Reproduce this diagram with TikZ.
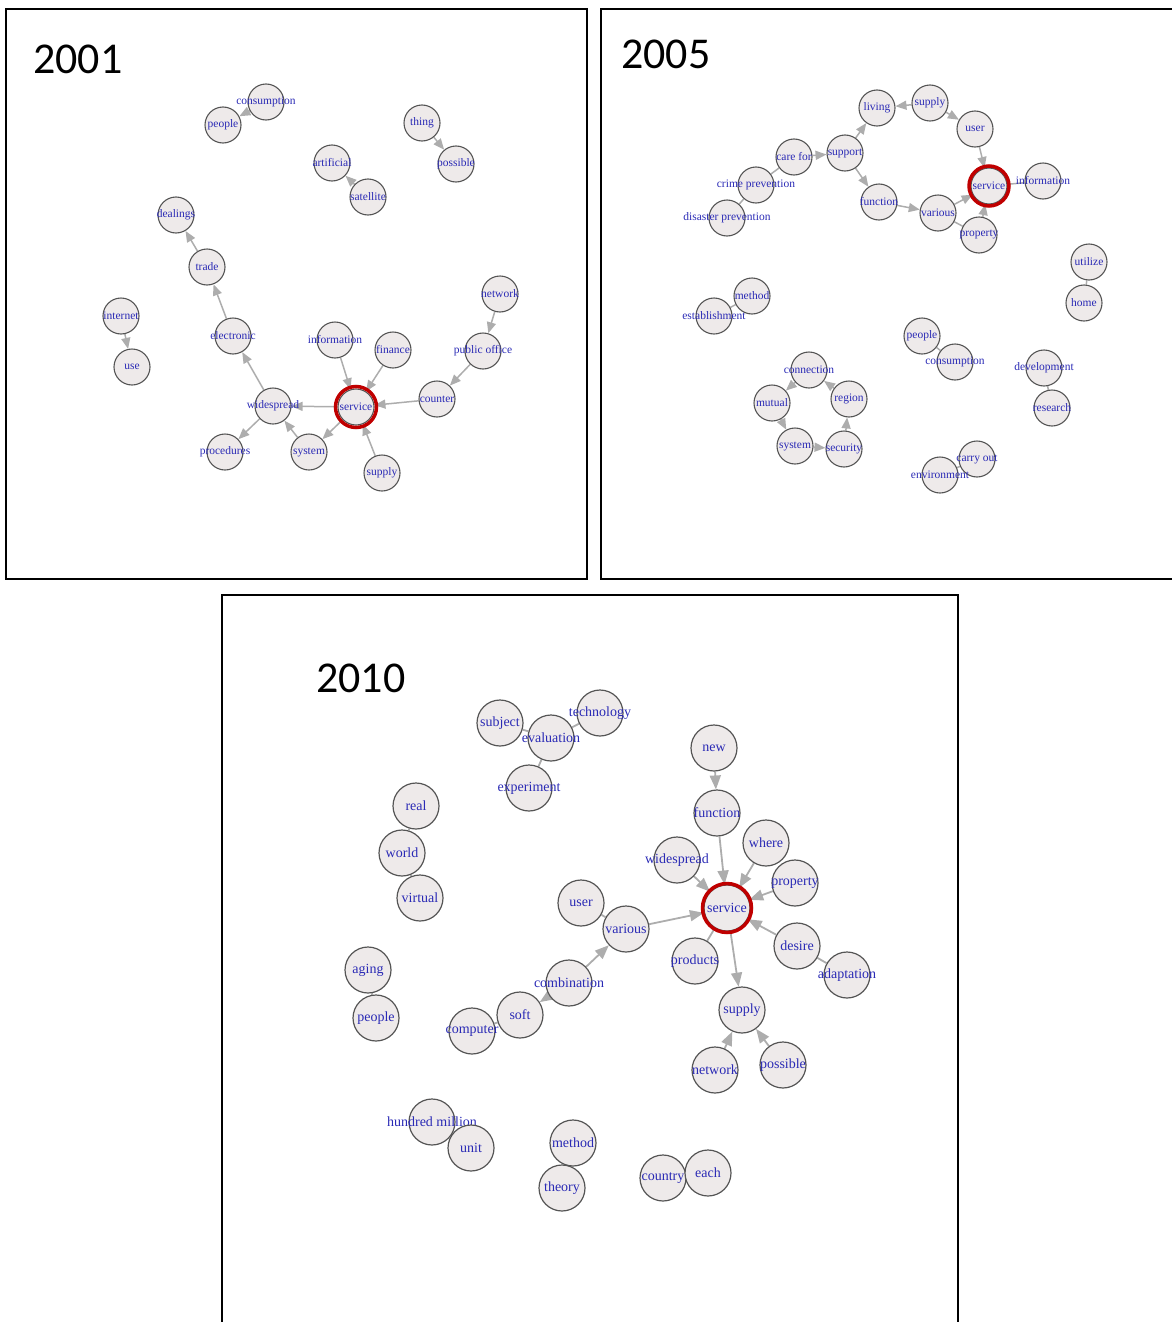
\documentclass[tikz,border=0pt]{standalone}
\usepackage{fontspec}
\setmainfont{Liberation Serif}
\newfontfamily\yearfont{Carlito}
\usetikzlibrary{arrows.meta,backgrounds}
\definecolor{nfill}{HTML}{EEEAEA}
\definecolor{ndraw}{HTML}{555555}
\definecolor{egray}{HTML}{ADADAD}
\definecolor{tblue}{HTML}{2A2AB5}
\definecolor{ringred}{HTML}{C00000}
\tikzset{
  n1/.style={circle, draw=ndraw, fill=nfill, line width=1.1pt, minimum size=36pt, inner sep=0pt},
  n3/.style={circle, draw=ndraw, fill=nfill, line width=1.2pt, minimum size=46pt, inner sep=0pt},
  t1/.style={text=tblue, inner sep=0pt, font=\fontsize{11.5}{12}\selectfont},
  t3/.style={text=tblue, inner sep=0pt, font=\fontsize{14}{15}\selectfont},
  ed/.style={draw=egray, line width=1.5pt, -{Triangle[length=11pt,width=9pt]}},
  pl/.style={draw=egray, line width=1.5pt},
  ed3/.style={draw=egray, line width=1.8pt, -{Triangle[length=14pt,width=11pt]}},
  pl3/.style={draw=egray, line width=1.8pt},
  panel/.style={draw=black, line width=2pt},
  ring/.style={draw=ringred, line width=3.5pt},
  year/.style={anchor=base west, inner sep=0pt, font=\yearfont\fontsize{44}{44}\selectfont}
}
\begin{document}
\begin{tikzpicture}[x=1pt,y=-1pt]
\useasboundingbox (0,0) rectangle (1171,1322);
% panels
\draw[panel] (6,9) rectangle (587,579);
\draw[panel] (1180,579) -- (601,579) -- (601,9) -- (1180,9);
\draw[panel] (222,1330) -- (222,595) -- (958,595) -- (958,1330);
\node[year] (y1) at (33,74) {2001};
\node[year] (y2) at (621,69) {2005};
\node[year] (y3) at (316,692) {2010};

% ---------- 2001 ----------
\node[n1,label={[t1]center:consumption}] (aconsumption) at (266,102) {};
\node[n1,label={[t1]center:people}] (apeople) at (223,125) {};
\node[n1,label={[t1]center:thing}] (athing) at (422,123) {};
\node[n1,label={[t1]center:possible}] (apossible) at (456,164) {};
\node[n1,label={[t1]center:artificial}] (aartificial) at (332,163) {};
\node[n1,label={[t1]center:satellite}] (asatellite) at (368,197) {};
\node[n1,label={[t1]center:dealings}] (adealings) at (176,215) {};
\node[n1,label={[t1]center:trade}] (atrade) at (207,267) {};
\node[n1,label={[t1]center:network}] (anetwork) at (500,294) {};
\node[n1,label={[t1]center:internet}] (ainternet) at (121,316) {};
\node[n1,label={[t1]center:electronic}] (aelectronic) at (233,336) {};
\node[n1,label={[t1]center:information}] (ainformation) at (335,340) {};
\node[n1,label={[t1]center:finance}] (afinance) at (393,350) {};
\node[n1,label={[t1]center:public office}] (apublic) at (483,351) {};
\node[n1,label={[t1]center:use}] (ause) at (132,367) {};
\node[n1,label={[t1]center:widespread}] (awidespread) at (273,406) {};
\node[n1,label={[t1]center:service}] (aservice) at (356,407) {};
\node[n1,label={[t1]center:counter}] (acounter) at (437,399) {};
\node[n1,label={[t1]center:procedures}] (aprocedures) at (225,452) {};
\node[n1,label={[t1]center:system}] (asystem) at (309,452) {};
\node[n1,label={[t1]center:supply}] (asupply) at (382,473) {};
\draw[ring] (aservice.center) circle (20.5);

% ---------- 2005 ----------
\node[n1,label={[t1]center:living}] (bliving) at (877,108) {};
\node[n1,label={[t1]center:supply}] (bsupply) at (930,103) {};
\node[n1,label={[t1]center:user}] (buser) at (975,129) {};
\node[n1,label={[t1]center:care for}] (bcarefor) at (794,157) {};
\node[n1,label={[t1]center:support}] (bsupport) at (845,153) {};
\node[n1,label={[t1]center:information}] (binformation) at (1043,181) {};
\node[n1,label={[t1]center:crime prevention}] (bcrime) at (756,185) {};
\node[n1,label={[t1]center:function}] (bfunction) at (879,202) {};
\node[n1,label={[t1]center:various}] (bvarious) at (938,213) {};
\node[n1,label={[t1]center:disaster prevention}] (bdisaster) at (727,218) {};
\node[n1,label={[t1]center:property}] (bproperty) at (979,235) {};
\node[n1,label={[t1]center:service}] (bservice) at (989,186) {};
\draw[ring] (bservice.center) circle (20);
\node[n1,label={[t1]center:utilize}] (butilize) at (1089,262) {};
\node[n1,label={[t1]center:home}] (bhome) at (1084,303) {};
\node[n1,label={[t1]center:method}] (bmethod) at (752,296) {};
\node[n1,label={[t1]center:establishment}] (bestablishment) at (714,316) {};
\node[n1,label={[t1]center:people}] (bpeople) at (922,336) {};
\node[n1,label={[t1]center:consumption}] (bconsumption) at (955,362) {};
\node[n1,label={[t1]center:connection}] (bconnection) at (809,370) {};
\node[n1,label={[t1]center:development}] (bdevelopment) at (1044,368) {};
\node[n1,label={[t1]center:mutual}] (bmutual) at (772,403) {};
\node[n1,label={[t1]center:region}] (bregion) at (849,399) {};
\node[n1,label={[t1]center:research}] (bresearch) at (1052,408) {};
\node[n1,label={[t1]center:system}] (bsystem) at (795,446) {};
\node[n1,label={[t1]center:security}] (bsecurity) at (844,449) {};
\node[n1,label={[t1]center:carry out}] (bcarryout) at (977,459) {};
\node[n1,label={[t1]center:environment}] (benvironment) at (940,475) {};

% ---------- 2010 ----------
\node[n3,label={[t3]center:subject}] (csubject) at (500,723) {};
\node[n3,label={[t3]center:technology}] (ctechnology) at (600,713) {};
\node[n3,label={[t3]center:evaluation}] (cevaluation) at (551,738) {};
\node[n3,label={[t3]center:experiment}] (cexperiment) at (529,788) {};
\node[n3,label={[t3]center:real}] (creal) at (416,806) {};
\node[n3,label={[t3]center:world}] (cworld) at (402,853) {};
\node[n3,label={[t3]center:virtual}] (cvirtual) at (420,898) {};
\node[n3,label={[t3]center:user}] (cuser) at (581,903) {};
\node[n3,label={[t3]center:various}] (cvarious) at (626,929) {};
\node[n3,label={[t3]center:new}] (cnew) at (714,748) {};
\node[n3,label={[t3]center:function}] (cfunction) at (717,813) {};
\node[n3,label={[t3]center:where}] (cwhere) at (766,843) {};
\node[n3,label={[t3]center:widespread}] (cwidespread) at (677,860) {};
\node[n3,label={[t3]center:property}] (cproperty) at (795,883) {};
\node[n3,label={[t3]center:desire}] (cdesire) at (797,946) {};
\node[n3,label={[t3]center:products}] (cproducts) at (695,961) {};
\node[n3,label={[t3]center:adaptation}] (cadaptation) at (847,975) {};
\node[n3,label={[t3]center:service}] (cservice) at (727,908) {};
\draw[ring] (cservice.center) circle (24.5);
\node[n3,label={[t3]center:supply}] (csupply) at (742,1010) {};
\node[n3,label={[t3]center:network}] (cnetwork) at (715,1070) {};
\node[n3,label={[t3]center:possible}] (cpossible) at (783,1065) {};
\node[n3,label={[t3]center:aging}] (caging) at (368,970) {};
\node[n3,label={[t3]center:people}] (cpeople) at (376,1018) {};
\node[n3,label={[t3]center:combination}] (ccombination) at (569,983) {};
\node[n3,label={[t3]center:computer}] (ccomputer) at (472,1031) {};
\node[n3,label={[t3]center:soft}] (csoft) at (520,1015) {};
\node[n3,label={[t3]center:hundred million}] (chundred) at (432,1122) {};
\node[n3,label={[t3]center:unit}] (cunit) at (471,1148) {};
\node[n3,label={[t3]center:method}] (cmethod) at (573,1143) {};
\node[n3,label={[t3]center:theory}] (ctheory) at (562,1188) {};
\node[n3,label={[t3]center:country}] (ccountry) at (663,1178) {};
\node[n3,label={[t3]center:each}] (ceach) at (708,1173) {};

\begin{pgfonlayer}{background}
% 2001 edges
\draw[ed] (aconsumption) -- (apeople);
\draw[ed] (athing) -- (apossible);
\draw[ed] (asatellite) -- (aartificial);
\draw[ed] (atrade) -- (adealings);
\draw[ed] (aelectronic) -- (atrade);
\draw[ed] (awidespread) -- (aelectronic);
\draw[ed] (ainternet) -- (ause);
\draw[ed] (ainformation) -- (aservice);
\draw[ed] (afinance) -- (aservice);
\draw[ed] (anetwork) -- (apublic);
\draw[ed] (apublic) -- (acounter);
\draw[ed] (acounter) -- (aservice);
\draw[ed] (aservice) -- (awidespread);
\draw[ed] (awidespread) -- (aprocedures);
\draw[ed] (asystem) -- (awidespread);
\draw[ed] (aservice) -- (asystem);
\draw[ed] (asupply) -- (aservice);
% 2005 edges
\draw[ed] (bsupply) -- (bliving);
\draw[ed] (bsupply) -- (buser);
\draw[ed] (buser) -- (bservice);
\draw[ed] (bsupport) -- (bliving);
\draw[ed] (bcarefor) -- (bsupport);
\draw[pl] (bcrime) -- (bcarefor);
\draw[pl] (bdisaster) -- (bcrime);
\draw[ed] (bsupport) -- (bfunction);
\draw[ed] (bfunction) -- (bvarious);
\draw[ed] (bvarious) -- (bservice);
\draw[ed] (bproperty) -- (bservice);
\draw[pl] (bvarious) -- (bproperty);
\draw[pl] (bservice) -- (binformation);
\draw[pl] (bmethod) -- (bestablishment);
\draw[pl] (butilize) -- (bhome);
\draw[pl] (bpeople) -- (bconsumption);
\draw[pl] (bdevelopment) -- (bresearch);
\draw[pl] (bcarryout) -- (benvironment);
\draw[ed] (bsecurity) -- (bregion);
\draw[ed] (bregion) -- (bconnection);
\draw[ed] (bconnection) -- (bmutual);
\draw[ed] (bmutual) -- (bsystem);
\draw[ed] (bsystem) -- (bsecurity);
% 2010 edges
\draw[pl3] (csubject) -- (cevaluation);
\draw[pl3] (cevaluation) -- (ctechnology);
\draw[pl3] (cevaluation) -- (cexperiment);
\draw[pl3] (creal) -- (cworld);
\draw[pl3] (cworld) -- (cvirtual);
\draw[pl3] (caging) -- (cpeople);
\draw[ed3] (cnew) -- (cfunction);
\draw[ed3] (cfunction) -- (cservice);
\draw[ed3] (cwidespread) -- (cservice);
\draw[ed3] (cwhere) -- (cservice);
\draw[ed3] (cproperty) -- (cservice);
\draw[ed3] (cdesire) -- (cservice);
\draw[pl3] (cadaptation) -- (cdesire);
\draw[ed3] (cvarious) -- (cservice);
\draw[pl3] (cproducts) -- (cservice);
\draw[ed3] (cservice) -- (csupply);
\draw[ed3] (cnetwork) -- (csupply);
\draw[ed3] (cpossible) -- (csupply);
\draw[ed3] (ccombination) -- (cvarious);
\draw[ed3] (ccombination) -- (csoft);
\draw[pl3] (ccomputer) -- (csoft);
\draw[pl3] (cuser) -- (cvarious);
\draw[pl3] (chundred) -- (cunit);
\draw[pl3] (cmethod) -- (ctheory);
\draw[pl3] (ccountry) -- (ceach);
\end{pgfonlayer}
\end{tikzpicture}
\end{document}
